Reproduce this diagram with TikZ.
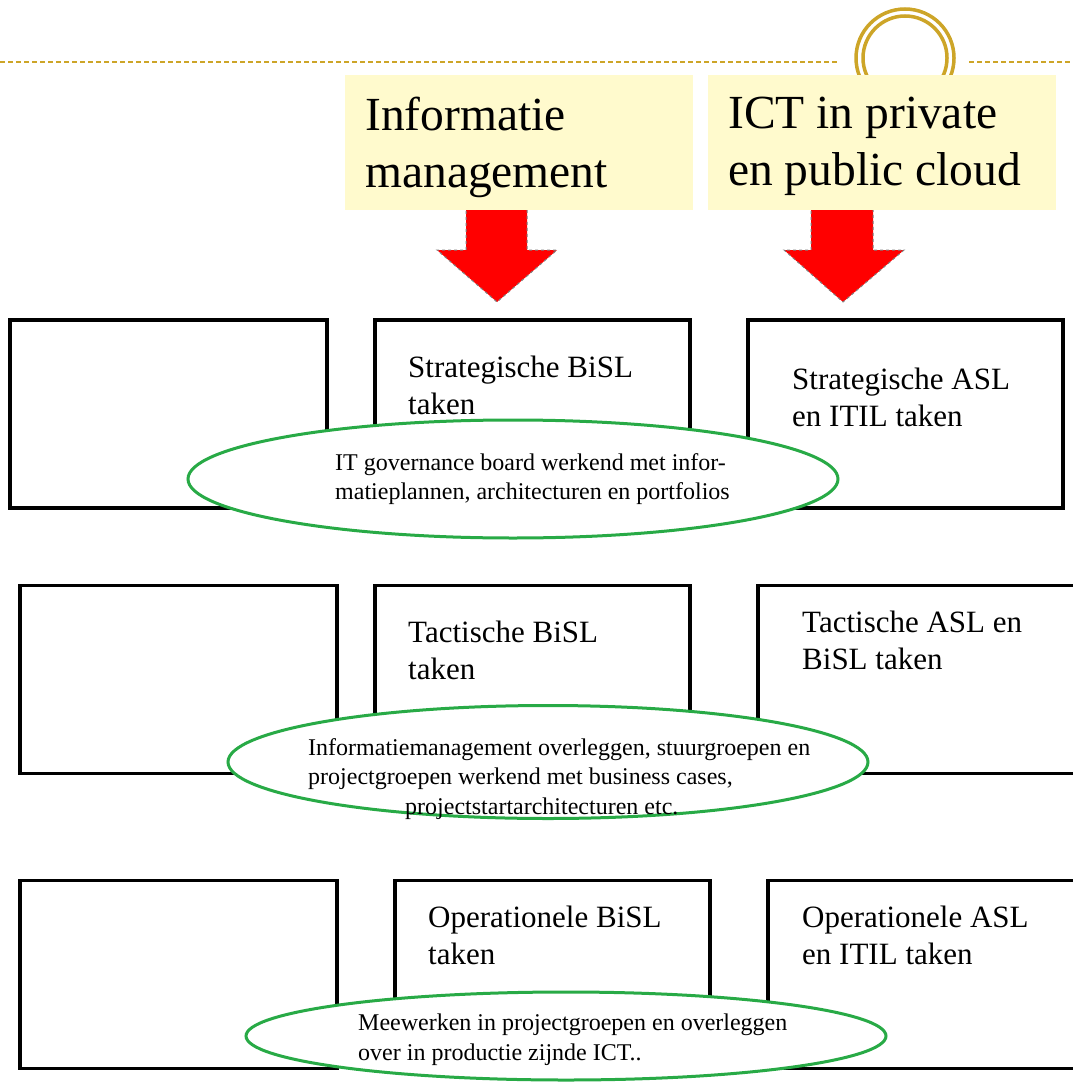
\documentclass[tikz,border=0pt]{standalone}
\usepackage{fontspec}
\setmainfont{Liberation Serif}
\usetikzlibrary{positioning,shapes.geometric}
\definecolor{gold}{RGB}{205,165,40}
\definecolor{pale}{RGB}{255,250,205}
\definecolor{ovalgreen}{RGB}{40,170,70}
\tikzset{
  box/.style  ={draw, line width=3.5pt, inner sep=0pt, minimum height=188pt},
  lbl/.style  ={anchor=north west, inner sep=0pt, align=left, font=\fontsize{31}{37}\selectfont},
  src/.style  ={fill=pale, inner sep=0pt, minimum width=348pt, minimum height=135pt},
  srct/.style ={anchor=north west, inner sep=0pt, align=left, font=\fontsize{47.5}{57}\selectfont},
  oval/.style ={ellipse, draw=ovalgreen, fill=white, line width=3pt, inner sep=0pt},
  ovt/.style  ={anchor=north west, inner sep=0pt, align=left, font=\fontsize{24}{29.5}\selectfont},
  down/.style ={fill=red, draw=gray, dashed, line width=1pt}
}
\begin{document}
\begin{tikzpicture}[x=1pt,y=-1pt]
\useasboundingbox (0,0) rectangle (1072,1083);
% header line with ring
\coordinate (hl) at (0,62);
\coordinate (hm) at (839,62);
\coordinate (hn) at (969,62);
\coordinate (hr) at (1072,62);
\draw[gold, line width=2.5pt, dash pattern=on 5pt off 3pt] (hl) -- (hm) (hn) -- (hr);
\node[circle, draw=gold, fill=white, line width=3.5pt, minimum size=98pt] (ring) at (905,58) {};
\node[circle, draw=gold, line width=3.5pt, minimum size=84pt] at (ring.center) {};
% red arrows
\draw[down] (466,205) -- (527,205) -- (527,250) -- (557,250) -- (497,302)
  -- (437,250) -- (466,250) -- cycle;
\draw[down] (811,205) -- (873,205) -- (873,250) -- (904,250) -- (843,302)
  -- (784,250) -- (811,250) -- cycle;
% sources
\node[src] (im)  at (519,142.5) {};
\node[src] (ict) at (882,142.5) {};
\node[srct] at (365,97) {Informatie\\management};
\node[srct] at (728,97) {ICT in private\\en public cloud};
% strategic row
\node[box, minimum width=317pt] (s1) at (168.5,414) {};
\node[box, minimum width=315pt] (s2) at (532.5,414) {};
\node[box, minimum width=315pt] (s3) at (905.5,414) {};
\node[lbl] (s2t) at (408,356) {Strategische BiSL\\taken};
\node[lbl] (s3t) at (792,368) {Strategische ASL\\en ITIL taken};
% tactical row
\node[box, minimum width=317pt] (t1) at (178.5,679.5) {};
\node[box, minimum width=315pt] (t2) at (532.5,679.5) {};
\node[box, minimum width=320pt] (t3) at (918,679.5) {};
\node[lbl] (t2t) at (408,621) {Tactische BiSL\\taken};
\node[lbl] (t3t) at (802,611) {Tactische ASL en\\BiSL taken};
% operational row
\node[box, minimum width=317pt] (o1) at (178.5,974.5) {};
\node[box, minimum width=315pt] (o2) at (552.5,974.5) {};
\node[box, minimum width=320pt] (o3) at (928,974.5) {};
\node[lbl] (o2t) at (428,906) {Operationele BiSL\\taken};
\node[lbl] (o3t) at (802,906) {Operationele ASL\\en ITIL taken};
% ovals
\node[oval, minimum width=650pt, minimum height=118pt] (e1) at (513,479) {};
\node[ovt] at (335,453) {IT governance board werkend met infor-\\matieplannen, architecturen en portfolios};
\node[oval, minimum width=640pt, minimum height=113pt] (e2) at (548,762) {};
\node[ovt] at (308,738) {Informatiemanagement overleggen, stuurgroepen en\\projectgroepen werkend met business cases,\\\hspace*{97pt}projectstartarchitecturen etc.};
\node[oval, minimum width=640pt, minimum height=88pt] (e3) at (566,1036) {};
\node[ovt] at (358,1014) {Meewerken in projectgroepen en overleggen\\over in productie zijnde ICT..};
\end{tikzpicture}
\end{document}
